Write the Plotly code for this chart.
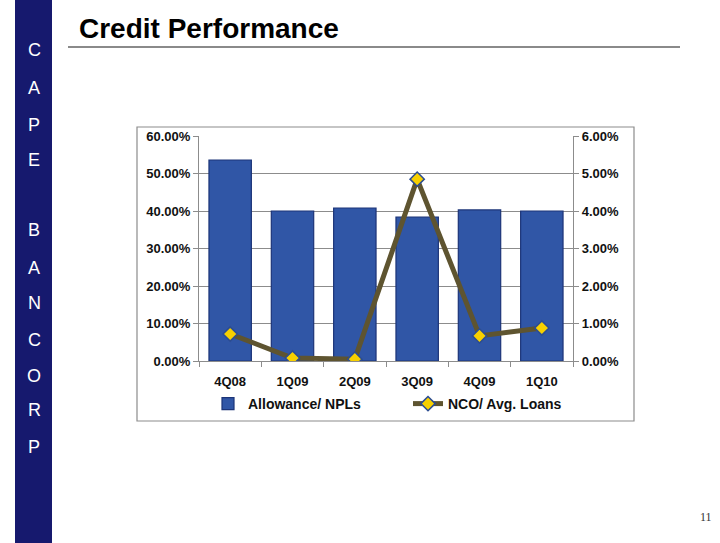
"""
Credit Performance slide: allowance/NPLs bars with NCO/avg. loans line on a second axis.
"""
import plotly.graph_objects as go

quarters = ["4Q08", "1Q09", "2Q09", "3Q09", "4Q09", "1Q10"]
allowance_npls = [0.536, 0.400, 0.408, 0.384, 0.403, 0.400]
nco_avg_loans = [0.0072, 0.0008, 0.0005, 0.0485, 0.0067, 0.0088]

side_letters = ["C", "A", "P", "E", "B", "A", "N", "C", "O", "R", "P"]
side_letter_y = [50, 88, 125, 160, 230, 268, 303, 340, 376, 410, 447]

W, H = 720, 543
PL, PR, PT, PB = 199, 573, 136, 361  # plot area in pixels


def px(x):
    return (x - PL) / (PR - PL)


def py(y):
    return (PB - y) / (PB - PT)


FONT = "Arial, Liberation Sans, Helvetica, sans-serif"

fig = go.Figure()
fig.add_trace(go.Bar(
    x=quarters, y=allowance_npls, name="Allowance/ NPLs", legend="legend",
    marker=dict(color="#3056a6", line=dict(color="#1c3478", width=1.2)),
))
fig.add_trace(go.Scatter(
    x=quarters, y=nco_avg_loans, name="NCO/ Avg. Loans", yaxis="y2", legend="legend2",
    mode="lines+markers",
    line=dict(color="#5e5430", width=5),
    marker=dict(symbol="diamond", size=11, color="#f7d000",
                line=dict(color="#2b4c92", width=1.5)),
))

shapes = [
    # navy side bar
    dict(type="rect", xref="paper", yref="paper", x0=px(15), x1=px(52),
         y0=py(H), y1=py(0), fillcolor="#16196e", line=dict(width=0), layer="below"),
    # title underline
    dict(type="line", xref="paper", yref="paper", x0=px(68), x1=px(680),
         y0=py(47), y1=py(47), line=dict(color="#8a8a8a", width=2)),
    # chart border
    dict(type="rect", xref="paper", yref="paper", x0=px(137), x1=px(634),
         y0=py(421), y1=py(127), line=dict(color="#8c8c8c", width=1.2), layer="below"),
]

annotations = [
    dict(text="<b>Credit Performance</b>", xref="paper", yref="paper",
         x=px(77), y=py(28), xanchor="left", yanchor="middle", showarrow=False,
         font=dict(family=FONT, size=28, color="#000000")),
    dict(text="11", xref="paper", yref="paper", x=px(706), y=py(517),
         xanchor="center", yanchor="middle", showarrow=False,
         font=dict(family="Liberation Serif, Times New Roman, serif", size=12, color="#333333")),
]
for letter, ly in zip(side_letters, side_letter_y):
    annotations.append(dict(
        text=letter, xref="paper", yref="paper", x=px(34), y=py(ly),
        xanchor="center", yanchor="middle", showarrow=False,
        font=dict(family=FONT, size=18, color="#ffffff")))

legend_style = dict(orientation="h", xanchor="left", y=py(404), yanchor="middle",
                    font=dict(family=FONT, size=14, color="#111111", weight="bold"),
                    itemwidth=30, bgcolor="rgba(0,0,0,0)")

fig.update_layout(
    width=W, height=H,
    margin=dict(l=PL, r=W - PR, t=PT, b=H - PB, pad=0),
    paper_bgcolor="white", plot_bgcolor="white",
    font=dict(family=FONT, size=13, color="#111111"),
    bargap=0.32,
    showlegend=True,
    legend=dict(x=px(208), **legend_style),
    legend2=dict(x=px(408), **legend_style),
    xaxis=dict(type="category", showgrid=False, showline=True, linecolor="#8c8c8c",
               linewidth=1.2, ticks="outside", tickson="boundaries", ticklen=5,
               tickcolor="#8c8c8c", tickfont=dict(size=13, weight="bold"), ticklabelstandoff=8),
    yaxis=dict(range=[0, 0.6], dtick=0.1, tickformat=".2%", showgrid=True,
               gridcolor="#8c8c8c", gridwidth=1, showline=True, linecolor="#8c8c8c",
               linewidth=1.2, ticks="outside", ticklen=5, tickcolor="#8c8c8c",
               tickfont=dict(size=13, weight="bold"), zeroline=False),
    yaxis2=dict(range=[0, 0.06], dtick=0.01, tickformat=".2%", overlaying="y",
                side="right", showgrid=False, showline=True, linecolor="#8c8c8c",
                linewidth=1.2, ticks="outside", ticklen=5, tickcolor="#8c8c8c",
                tickfont=dict(size=13, weight="bold"), zeroline=False),
    shapes=shapes,
    annotations=annotations,
)

# drop the browser's default 8px body margin so the slide lines up with the window
fig.write_html("out.html", config={"displayModeBar": False},
               post_script="document.body.style.margin='0';")
